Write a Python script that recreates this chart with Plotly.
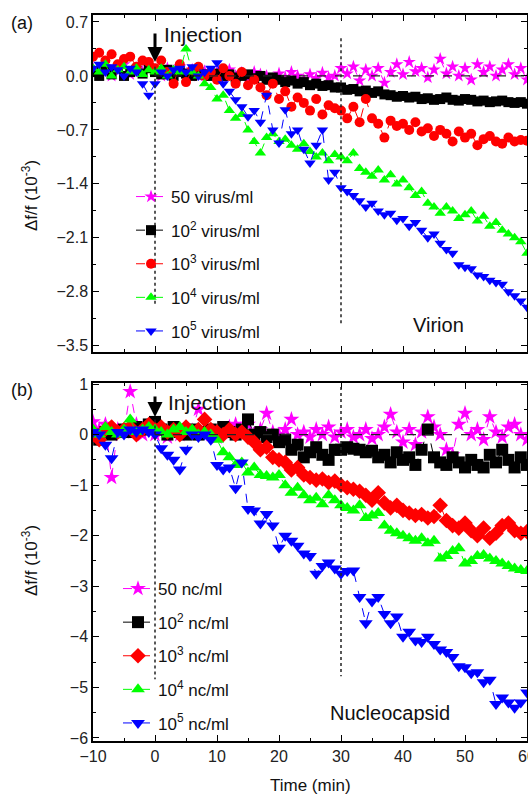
import plotly.graph_objects as go

time_min = list(range(-10, 61))

# ---- Panel (a): Virion ----
virion_50 = [0.1, 0.05, 0.12, 0.0, 0.08, 0.15, 0.02, 0.1, 0.05, 0.12,
             0.08, 0.0, 0.1, 0.05, 0.12, 0.02, 0.08, 0.0, 0.06, 0.03,
             0.05, -0.02, 0.08, 0.0, 0.04, -0.03, 0.05, 0.02, 0.0, -0.04,
             0.03, -0.02, 0.05, 0.0, -0.05, 0.02, -0.03, 0.04, -0.02, 0.0,
             0.1, 0.03, 0.12, -0.06, 0.08, 0.0, 0.1, -0.09, 0.05, 0.15,
             0.02, 0.18, 0.06, 0.1, -0.02, 0.08, 0.22, 0.03, 0.12, 0.0,
             0.1, -0.05, 0.15, 0.05, 0.12, 0.0, 0.08, 0.15, 0.02, 0.1,
             -0.05]
virion_1e2 = [0.05, 0.0, 0.08, 0.02, 0.1, 0.0, 0.05, 0.08, 0.03, 0.1,
              0.05, 0.02, 0.08, 0.0, 0.05, 0.03, 0.0, 0.05, 0.02, 0.0,
              0.03, 0.0, 0.02, -0.02, 0.0, 0.02, -0.03, 0.0, -0.05, -0.02,
              -0.05, -0.08, -0.06, -0.1, -0.08, -0.12, -0.1, -0.13, -0.12, -0.15,
              -0.15, -0.18, -0.17, -0.2, -0.19, -0.22, -0.2, -0.24, -0.25, -0.27,
              -0.26, -0.28, -0.27, -0.3, -0.29, -0.31, -0.3, -0.28, -0.31, -0.32,
              -0.3, -0.31, -0.33, -0.32, -0.34, -0.33, -0.32, -0.34, -0.35, -0.34,
              -0.36]
virion_1e3 = [0.25, 0.3, 0.2, 0.28, 0.15, 0.22, 0.25, 0.12, 0.2, 0.18,
              0.1, 0.2, 0.05, -0.1, 0.15, -0.08, 0.08, 0.12, 0.0, 0.05,
              -0.05, 0.1, 0.0, -0.1, 0.05, -0.12, -0.05, -0.15, -0.25, -0.1,
              -0.3, -0.2, -0.4, -0.28, -0.35, -0.45, -0.3, -0.5, -0.38, -0.42,
              -0.45, -0.55, -0.4, -0.6, -0.3, -0.55, -0.62, -0.8, -0.58, -0.65,
              -0.62, -0.7, -0.6, -0.72, -0.68, -0.78, -0.7, -0.75, -0.85, -0.72,
              -0.8, -0.75, -0.9, -0.82, -0.78, -0.85, -0.88, -0.8, -0.85, -0.83,
              -0.84]
virion_1e4 = [0.1, 0.05, 0.15, 0.0, 0.08, 0.12, 0.05, 0.1, 0.02, 0.08,
              0.05, 0.1, 0.0, 0.08, 0.05, 0.35, 0.05, 0.0, -0.1, -0.15,
              -0.3, -0.25, -0.45, -0.55, -0.5, -0.7, -0.85, -1.0, -0.8, -0.75,
              -0.85, -0.82, -0.9, -0.95, -0.88, -0.98, -1.05, -1.0, -1.1, -1.02,
              -1.05, -1.1, -1.0, -1.2, -1.25, -1.3, -1.22, -1.35, -1.28, -1.4,
              -1.35, -1.45, -1.55, -1.5, -1.65, -1.7, -1.78, -1.7, -1.75, -1.85,
              -1.8, -1.75, -1.88, -1.82, -1.95, -1.9, -2.0, -2.05, -2.1, -2.15,
              -2.3]
virion_1e5 = [0.1, 0.15, 0.05, 0.12, 0.08, 0.0, 0.1, 0.05, -0.1, -0.25,
              -0.1, 0.05, 0.0, 0.08, 0.1, 0.05, 0.12, 0.0, 0.05, 0.1,
              0.17, -0.1, -0.2, -0.31, -0.4, -0.53, -0.45, -0.6, -0.25, -0.7,
              -0.87, -0.44, -0.75, -0.7, -0.95, -1.13, -0.9, -0.7, -1.35, -1.25,
              -1.45, -1.5, -1.55, -1.62, -1.7, -1.65, -1.75, -1.8, -1.78, -1.87,
              -1.85, -1.95, -1.9, -2.0, -2.1, -2.05, -2.17, -2.25, -2.3, -2.45,
              -2.48, -2.5, -2.58, -2.6, -2.65, -2.68, -2.7, -2.8, -2.85, -2.92,
              -3.0]

# ---- Panel (b): Nucleocapsid ----
nc_50 = [0.25, 0.1, 0.2, -0.85, 0.1, 0.05, 0.85, 0.2, 0.0, 0.1,
         0.0, 0.05, -0.05, 0.1, 0.0, 0.05, 0.08, 0.5, 0.1, 0.0,
         -0.05, 0.05, 0.15, 0.2, 0.05, 0.2, 0.0, 0.1, 0.42, 0.05,
         0.0, 0.1, 0.3, 0.0, 0.05, -0.05, 0.1, 0.0, 0.15, -0.05,
         0.05, 0.1, -0.05, 0.0, 0.1, -0.08, 0.0, 0.15, 0.4, 0.05,
         -0.15, 0.1, -0.2, 0.05, 0.35, 0.15, 0.0, -0.3, -0.4, 0.2,
         0.42, 0.0, 0.1, -0.1, 0.35, 0.05, -0.05, 0.15, 0.2, 0.0,
         -0.1]
nc_1e2 = [0.0, -0.1, 0.05, 0.0, 0.05, 0.1, 0.05, 0.15, 0.1, 0.2,
          0.25, 0.1, 0.0, 0.15, 0.05, 0.0, 0.1, 0.0, 0.05, 0.1,
          0.0, 0.15, 0.05, 0.0, 0.1, 0.3, 0.0, 0.05, -0.05, 0.0,
          -0.15, -0.1, -0.3, -0.2, -0.45, -0.35, -0.25, -0.4, -0.5, -0.3,
          -0.3, -0.25, -0.28, -0.3, -0.35, -0.32, -0.45, -0.4, -0.55, -0.35,
          -0.5, -0.45, -0.6, -0.3, 0.1, -0.45, -0.55, -0.6, -0.45, -0.55,
          -0.65, -0.5, -0.6, -0.65, -0.4, -0.55, -0.3, -0.5, -0.65, -0.45,
          -0.6]
nc_1e3 = [0.05, -0.1, 0.1, 0.15, 0.05, 0.1, 0.15, 0.0, 0.1, 0.2,
          0.1, 0.15, 0.05, 0.1, 0.0, 0.15, 0.05, 0.1, 0.3, 0.1,
          0.05, 0.0, 0.1, 0.0, 0.05, -0.05, -0.15, -0.3, -0.25, -0.45,
          -0.5, -0.55, -0.7, -0.65, -0.8, -0.85, -0.9, -0.88, -0.95, -0.92,
          -1.0, -1.05, -1.08, -1.12, -1.2, -1.3, -1.15, -1.35, -1.45, -1.4,
          -1.5, -1.55, -1.6, -1.58, -1.65, -1.62, -1.4, -1.7, -1.8, -1.85,
          -1.75, -1.9, -2.0, -1.85, -2.05, -1.95, -1.8, -1.75, -1.9, -1.95,
          -1.92]
nc_1e4 = [0.1, 0.0, 0.15, 0.05, 0.0, 0.1, 0.3, 0.05, 0.1, 0.15,
          0.1, 0.05, 0.0, 0.1, 0.15, 0.05, 0.1, 0.0, 0.05, 0.0,
          -0.1, -0.35, -0.45, -0.6, -0.55, -0.75, -0.65, -0.8, -0.82, -0.85,
          -0.8, -1.0, -1.15, -1.05, -1.2, -1.3, -1.25, -1.38, -1.2, -1.3,
          -1.4, -1.45, -1.5, -1.4, -1.65, -1.6, -1.55, -1.8, -1.9, -1.95,
          -2.0, -2.05, -2.1, -2.05, -2.15, -2.1, -2.45, -2.4, -2.3, -2.25,
          -2.55, -2.5, -2.4, -2.38, -2.45, -2.5, -2.55, -2.6, -2.65, -2.68,
          -2.7]
nc_1e5 = [0.05, 0.0, -0.2, -0.47, 0.05, 0.0, 0.1, 0.05, 0.1, 0.05,
          0.0, -0.27, -0.4, -0.5, -0.69, -0.3, 0.0, -0.05, 0.0, -0.1,
          -0.6, -0.69, -0.65, -1.06, -0.55, -1.47, -1.5, -1.76, -1.57, -1.8,
          -2.24, -2.0, -2.1, -2.2, -2.35, -2.4, -2.75, -2.6, -2.53, -2.65,
          -2.75, -2.7, -2.69, -3.21, -3.73, -3.3, -3.21, -3.55, -3.73, -3.6,
          -4.0, -3.9, -4.07, -4.1, -4.0, -4.14, -4.25, -4.3, -4.4, -4.58,
          -4.6, -4.72, -4.7, -4.9, -4.85, -5.33, -5.2, -5.3, -5.4, -5.3,
          -5.1]

virion_names = ["50 virus/ml", "10<sup>2</sup> virus/ml", "10<sup>3</sup> virus/ml",
                "10<sup>4</sup> virus/ml", "10<sup>5</sup> virus/ml"]
nc_names = ["50 nc/ml", "10<sup>2</sup> nc/ml", "10<sup>3</sup> nc/ml",
            "10<sup>4</sup> nc/ml", "10<sup>5</sup> nc/ml"]
y_ticks_a = [-3.5, -2.8, -2.1, -1.4, -0.7, 0.0, 0.7]
y_ticks_b = [-6, -5, -4, -3, -2, -1, 0, 1]
x_ticks = [-10, 0, 10, 20, 30, 40, 50, 60]

colors = ["#FF00FF", "#000000", "#FF0000", "#00FF00", "#0000FF"]
symbols_a = ["star", "square", "circle", "triangle-up", "triangle-down"]
symbols_b = ["star", "square", "diamond", "triangle-up", "triangle-down"]

FONT = "Liberation Sans, Arial, sans-serif"
L, R, T, B = 93, 527, 15, 741
W, H = 528, 799


def px(xp):
    return (xp - L) / (R - L)


def py(yp):
    return (B - yp) / (B - T)


fig = go.Figure()
series_a = [virion_50, virion_1e2, virion_1e3, virion_1e4, virion_1e5]
series_b = [nc_50, nc_1e2, nc_1e3, nc_1e4, nc_1e5]
for i in range(5):
    fig.add_trace(go.Scatter(
        x=time_min, y=series_a[i], name=virion_names[i], mode="lines+markers",
        xaxis="x", yaxis="y", legend="legend", legendgroup=f"a{i}",
        line=dict(color=colors[i], width=1, dash="dash"),
        marker=dict(symbol=symbols_a[i], size=10, color=colors[i])))
for i in range(5):
    fig.add_trace(go.Scatter(
        x=time_min, y=series_b[i], name=nc_names[i], mode="lines+markers",
        xaxis="x2", yaxis="y2", legend="legend2", legendgroup=f"b{i}",
        line=dict(color=colors[i], width=1, dash="dash"),
        marker=dict(symbol=symbols_b[i], size=12, color=colors[i])))

ax_common = dict(showline=True, linecolor="black", linewidth=1.5, mirror="ticks",
                 ticks="inside", ticklen=6, tickwidth=1.2, tickcolor="black",
                 showgrid=False, zeroline=False, ticklabeloverflow="allow",
                 automargin=False,
                 tickfont=dict(family=FONT, size=16, color="#222"))

split_a = py(352)
split_b = py(383)

fig.update_layout(
    width=W, height=H, paper_bgcolor="white", plot_bgcolor="white",
    margin=dict(l=L, r=W - R, t=T, b=H - B, autoexpand=False),
    showlegend=True,
    xaxis=dict(ax_common, domain=[0, 1], anchor="y", range=[-10, 60], tickvals=x_ticks,
               showticklabels=False, minor=dict(ticks="inside", ticklen=3, dtick=5, tickcolor="black")),
    yaxis=dict(ax_common, domain=[split_a, 1], anchor="x", range=[-3.58, 0.79],
               tickvals=y_ticks_a, tickformat=".1f",
               minor=dict(ticks="inside", ticklen=3, dtick=0.35, tick0=0, tickcolor="black")),
    xaxis2=dict(ax_common, domain=[0, 1], anchor="y2", range=[-10, 60], tickvals=x_ticks,
                minor=dict(ticks="inside", ticklen=3, dtick=5, tickcolor="black")),
    yaxis2=dict(ax_common, domain=[0, split_b], anchor="x2", range=[-6.06, 1.02],
                tickvals=y_ticks_b,
                minor=dict(ticks="inside", ticklen=3, dtick=0.5, tick0=0, tickcolor="black")),
    legend=dict(x=px(131), y=py(179), xanchor="left", yanchor="top",
                bgcolor="rgba(0,0,0,0)", tracegroupgap=8.5,
                font=dict(family=FONT, size=17, color="#111")),
    legend2=dict(x=px(118), y=py(571), xanchor="left", yanchor="top",
                 bgcolor="rgba(0,0,0,0)", tracegroupgap=8.5,
                 font=dict(family=FONT, size=17, color="#111")),
)

# reference lines
shapes = [
    dict(type="line", xref="x", yref="y", x0=0, x1=0, y0=0.12, y1=-2.97,
         line=dict(color="#222", width=1.5, dash="dot")),
    dict(type="line", xref="x", yref="y", x0=30, x1=30, y0=0.49, y1=-3.23,
         line=dict(color="#222", width=1.5, dash="dot")),
    dict(type="line", xref="x", yref="y", x0=0, x1=60, y0=0, y1=0,
         line=dict(color="#222", width=1.2, dash="dash")),
    dict(type="line", xref="x2", yref="y2", x0=0, x1=0, y0=0.3, y1=-4.84,
         line=dict(color="#222", width=1.5, dash="dot")),
    dict(type="line", xref="x2", yref="y2", x0=30, x1=30, y0=0.94, y1=-4.78,
         line=dict(color="#222", width=1.5, dash="dot")),
    dict(type="line", xref="x2", yref="y2", x0=0, x1=60, y0=0, y1=0,
         line=dict(color="#222", width=1.2, dash="dash")),
]
fig.update_layout(shapes=shapes)

ann = []
def text(t, x, y, size, xanchor="center", angle=0):
    ann.append(dict(text=t, x=px(x), y=py(y), xref="paper", yref="paper",
                    showarrow=False, xanchor=xanchor, yanchor="middle",
                    textangle=angle, font=dict(family=FONT, size=size, color="#111")))

text("(a)", 22, 23, 18)
text("(b)", 22, 390, 18)
text("Δf/f (10<sup>-3</sup>)", 30, 195, 17, angle=-90)
text("Δf/f (10<sup>-3</sup>)", 30, 560, 17, angle=-90)
text("Time (min)", 310, 785, 17)
text("Injection", 162, 35, 21, xanchor="left")
text("Injection", 166, 402, 21, xanchor="left")
text("Virion", 438, 325, 20)
text("Nucleocapsid", 390, 713, 20)

ann.append(dict(x=0, y=0.18, xref="x", yref="y", ax=0, ay=-30, showarrow=True,
                arrowhead=2, arrowsize=1, arrowwidth=3, arrowcolor="black", text=""))
ann.append(dict(x=0, y=0.35, xref="x2", yref="y2", ax=0, ay=-22, showarrow=True,
                arrowhead=2, arrowsize=1, arrowwidth=3, arrowcolor="black", text=""))
fig.update_layout(annotations=ann)

fig.write_html("out.html", config={"displayModeBar": False},
               post_script="document.body.style.margin='0';")
